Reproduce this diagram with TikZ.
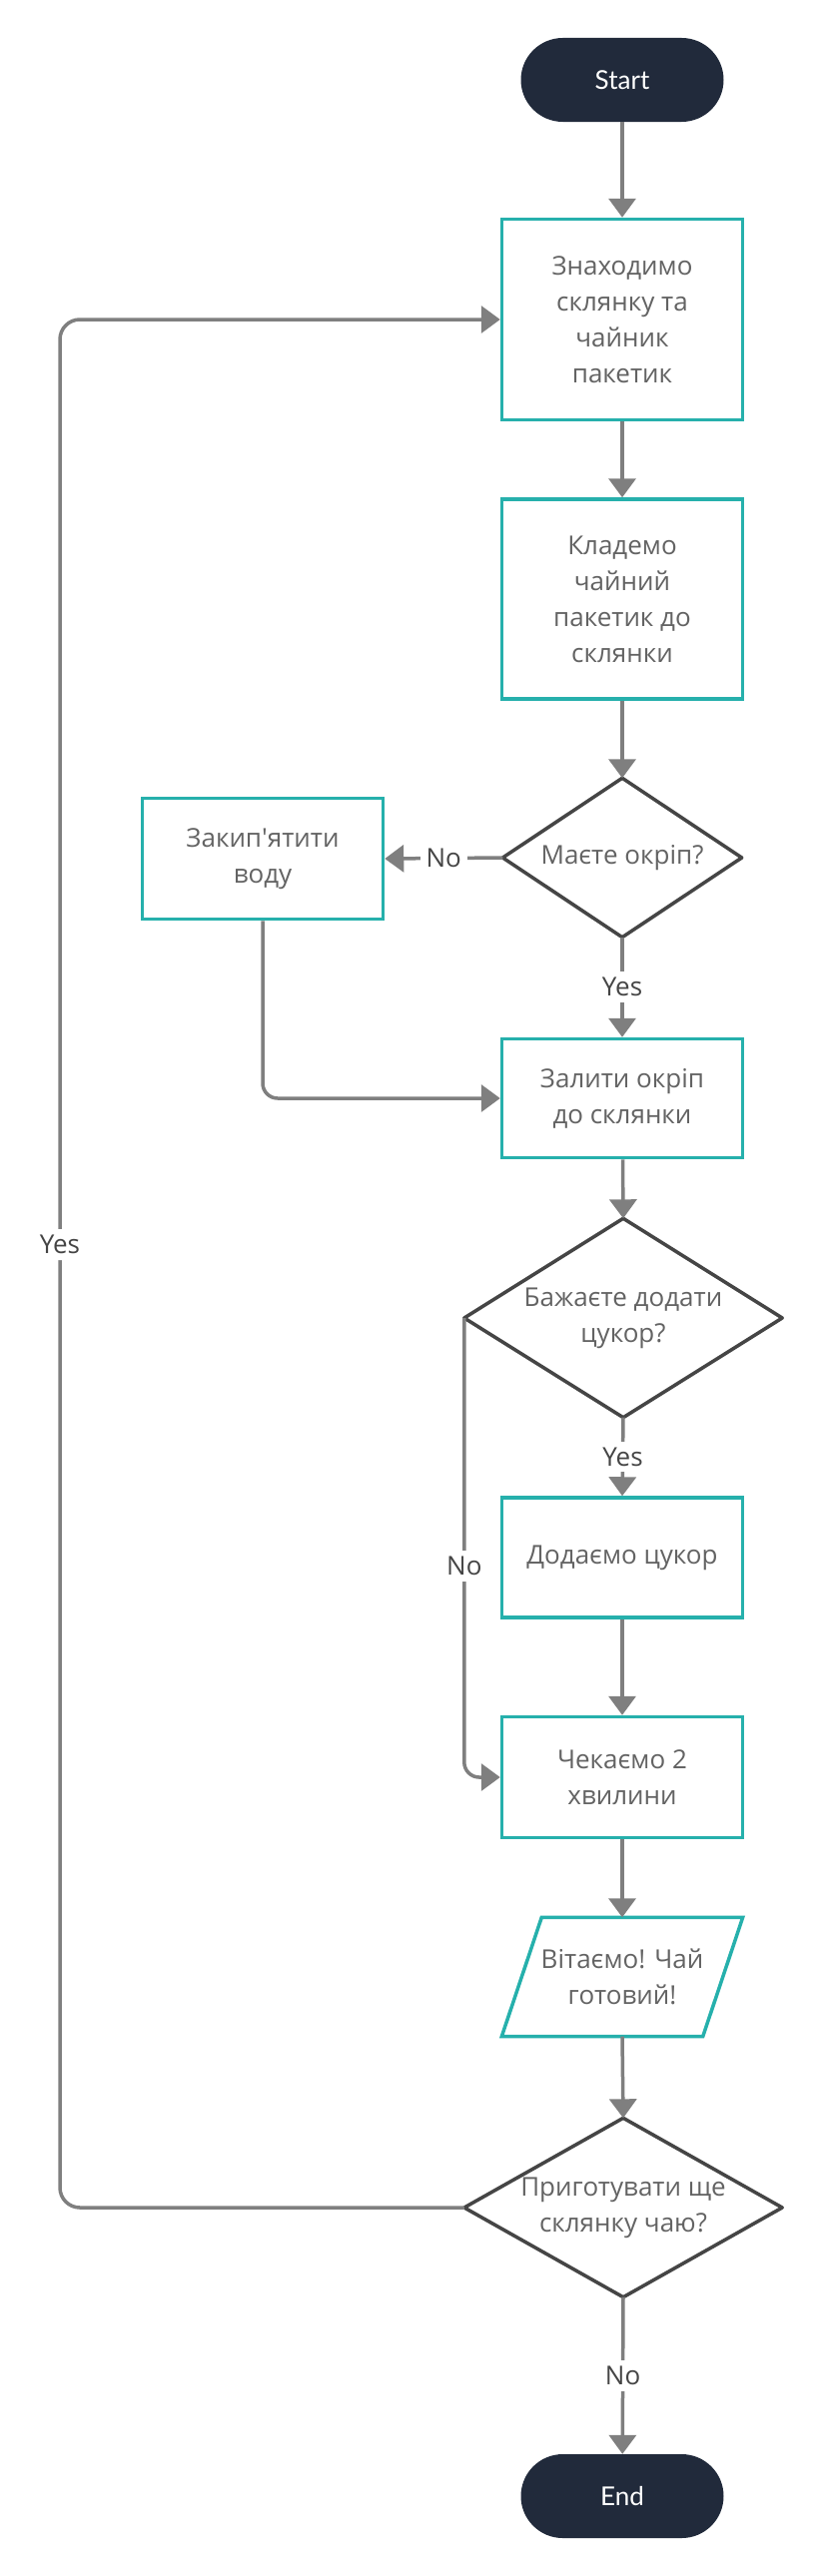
\documentclass[tikz,border=0pt]{standalone}
\usepackage{fontspec}
\setmainfont{Open Sans}
\newfontfamily\latofont{Lato}
\usetikzlibrary{arrows.meta}
\definecolor{tealc}{HTML}{26B0AC}
\definecolor{navy}{HTML}{212A3B}
\definecolor{connc}{HTML}{7F7F7F}
\definecolor{dgray}{HTML}{454545}
\definecolor{txtc}{HTML}{636363}
\begin{document}
\begin{tikzpicture}[x=1pt,y=-1pt,
  proc/.style={draw=tealc, line width=3.5pt, fill=white, minimum width=241pt, inner sep=0pt, text=txtc, align=center, font=\fontsize{26}{36}\selectfont},
  term/.style={fill=navy, rounded corners=42pt, minimum width=203pt, minimum height=84pt, inner sep=0pt, text=white, font=\latofont\fontsize{26}{30}\selectfont},
  dec/.style={inner sep=0pt, align=center, text=txtc, font=\fontsize{26}{36}\selectfont},
  decline/.style={draw=dgray, line width=3.5pt, line join=round},
  arr/.style={draw=connc, line width=3.5pt, -{Triangle[width=27pt,length=19pt]}},
  plain/.style={draw=connc, line width=3.5pt},
  lbl/.style={fill=white, text=dgray, inner sep=6pt, font=\fontsize{26}{30}\selectfont}]
\useasboundingbox (0,0) rectangle (823,2580);

\node[term] (start) at (623,80) {Start};
\node[proc, minimum height=201pt] (b1) at (623,320) {Знаходимо\\склянку та\\чайник\\пакетик};
\node[proc, minimum height=200pt] (b2) at (623,600) {Кладемо\\чайний\\пакетик до\\склянки};
\node[dec, minimum width=239pt, minimum height=159pt] (d1) at (623,859) {Маєте окріп?};
\draw[decline] (d1.north) -- (d1.east) -- (d1.south) -- (d1.west) -- cycle;
\node[proc, minimum height=121pt] (bz) at (263,860) {Закип\textquotesingle ятити\\воду};
\node[proc, minimum height=119pt] (b3) at (623,1100) {Залити окріп\\до склянки};
\node[dec, minimum width=318pt, minimum height=199pt] (d2) at (624,1320) {Бажаєте додати\\цукор?};
\draw[decline] (d2.north) -- (d2.east) -- (d2.south) -- (d2.west) -- cycle;
\node[proc, minimum height=120pt] (b4) at (623,1560) {Додаємо цукор};
\node[proc, minimum height=121pt] (b5) at (623,1780) {Чекаємо 2\\хвилини};
\node[dec, minimum width=241pt, minimum height=119pt] (p) at (623,1980) {Вітаємо! Чай\\готовий!};
\draw[draw=tealc, line width=3.5pt] ([xshift=40pt]p.north west) -- (p.north east) -- ([xshift=-40pt]p.south east) -- (p.south west) -- cycle;
\node[dec, minimum width=318pt, minimum height=179pt] (d3) at (624,2211) {Приготувати ще\\склянку чаю?};
\draw[decline] (d3.north) -- (d3.east) -- (d3.south) -- (d3.west) -- cycle;
\node[term] (end) at (623,2500) {End};
\coordinate (lx) at (60,0);

\draw[arr] (start) -- (b1);
\draw[arr] (b1) -- (b2);
\draw[arr] (b2) -- (d1.north);
\draw[arr] (d1.west) -- node[lbl]{No} (bz.east);
\draw[arr] (d1.south) -- node[lbl]{Yes} (b3.north);
\draw[arr, rounded corners=15pt] (bz.south) -- (bz.south |- b3.west) -- (b3.west);
\draw[arr] (b3) -- (d2.north);
\draw[arr] (d2.south) -- node[lbl]{Yes} (b4.north);
\draw[arr, rounded corners=15pt] (d2.west) -- node[lbl, pos=0.54]{No} (d2.west |- b5.west) -- (b5.west);
\draw[arr] (b4) -- (b5);
\draw[arr] (b5) -- (p.north);
\draw[arr] (p.south) -- (d3.north);
\draw[arr] (d3.south) -- node[lbl]{No} (end);
\draw[arr, rounded corners=20pt] (d3.west) -- (d3.west -| lx) -- node[lbl, pos=0.51]{Yes} (lx |- b1.west) -- (b1.west);
\end{tikzpicture}
\end{document}
